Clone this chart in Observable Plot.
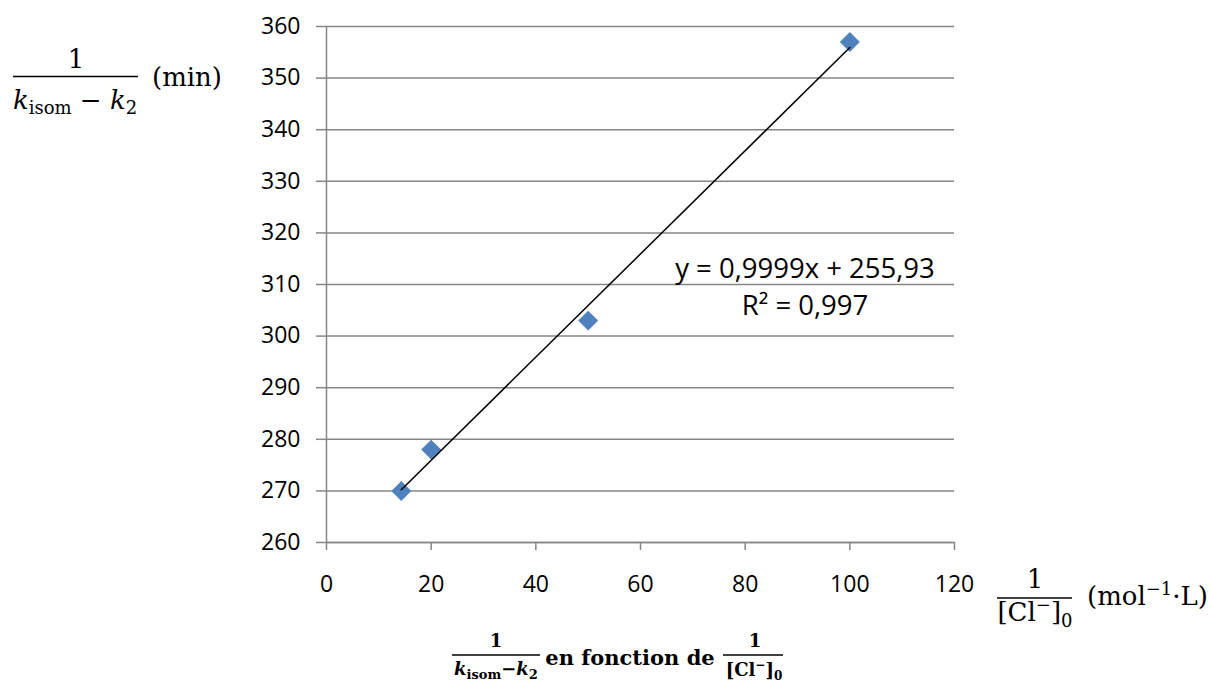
<!DOCTYPE html>
<html>
<head>
<meta charset="utf-8">
<script src="https://cdn.jsdelivr.net/npm/d3@7"></script>
<script src="https://cdn.jsdelivr.net/npm/@observablehq/plot@0.6"></script>
<style>
  html, body { margin: 0; padding: 0; background: #fff; }
  #wrap { position: relative; width: 1211px; height: 684px; overflow: hidden; }
  #overlay { position: absolute; left: 0; top: 0; pointer-events: none; }
  .m { font-family: "DejaVu Serif", "Liberation Serif", serif; fill: #000; }
  .eq { font-family: "Open Sans", sans-serif; fill: #000; }
</style>
</head>
<body>
<div id="wrap"></div>
<script>
// Data
const invConc = [14.29, 20, 50, 100];      // 1/[Cl-]0 (mol^-1·L)
const invK = [270, 278, 303, 357];          // 1/(k_isom - k2) (min)
const xTicks = [0, 20, 40, 60, 80, 100, 120];
const yTicks = [260, 270, 280, 290, 300, 310, 320, 330, 340, 350, 360];
const eqLine1 = "y = 0,9999x + 255,93";
const eqLine2 = "R² = 0,997";

const data = invConc.map((x, i) => ({x, y: invK[i]}));
const grey = "#868686";

const chart = Plot.plot({
  width: 1211,
  height: 684,
  marginLeft: 326,
  marginRight: 257,
  marginTop: 26,
  marginBottom: 142,
  style: {fontFamily: "'Open Sans', sans-serif", fontSize: "23px", color: "#000", background: "#fff"},
  x: {domain: [0, 120], label: null},
  y: {domain: [260, 360], label: null},
  marks: [
    Plot.gridY(yTicks, {stroke: grey, strokeOpacity: 1, strokeWidth: 1.5}),
    Plot.ruleX([0], {stroke: grey, strokeWidth: 1.5}),
    Plot.ruleY([260], {stroke: grey, strokeWidth: 1.5}),
    Plot.axisX(xTicks, {stroke: grey, strokeWidth: 1.5, fill: "#000", tickSize: 8, tickPadding: 25, label: null}),
    Plot.axisY(yTicks, {stroke: grey, strokeWidth: 1.5, fill: "#000", tickSize: 10, tickPadding: 16, label: null}),
    Plot.dot(data, {x: "x", y: "y", symbol: "diamond2", r: 9, fill: "#4F81BD", stroke: "none"}),
    Plot.linearRegressionY(data, {x: "x", y: "y", stroke: "#000", strokeWidth: 1.5, ci: 0})
  ]
});

const wrap = document.getElementById("wrap");
wrap.appendChild(chart);

// Math labels overlay
const ns = "http://www.w3.org/2000/svg";
const ov = document.createElementNS(ns, "svg");
ov.setAttribute("id", "overlay");
ov.setAttribute("width", 1211);
ov.setAttribute("height", 684);
ov.innerHTML = `
  <!-- y-axis label -->
  <text class="m" x="76" y="68" text-anchor="middle" font-size="26">1</text>
  <line x1="13" x2="138" y1="76.5" y2="76.5" stroke="#000" stroke-width="1.6"/>
  <text class="m" x="75" y="109" text-anchor="middle" font-size="26"><tspan font-style="italic">k</tspan><tspan font-size="18" dy="5">isom</tspan><tspan dy="-5"> − </tspan><tspan font-style="italic">k</tspan><tspan font-size="18" dy="5">2</tspan></text>
  <text class="m" x="152" y="86" font-size="26">(min)</text>

  <!-- x-axis label -->
  <text class="m" x="1035" y="588" text-anchor="middle" font-size="26">1</text>
  <line x1="997" x2="1072" y1="598" y2="598" stroke="#000" stroke-width="1.6"/>
  <text class="m" x="1035" y="621" text-anchor="middle" font-size="26">[Cl<tspan font-size="18" dy="-10">−</tspan><tspan dy="10">]</tspan><tspan font-size="18" dy="6">0</tspan></text>
  <text class="m" x="1087" y="605" font-size="26">(mol<tspan font-size="18" dy="-10">−1</tspan><tspan dy="10">·L)</tspan></text>

  <!-- trendline equation -->
  <text class="eq" x="805" y="278" text-anchor="middle" font-size="27.5">${eqLine1}</text>
  <text class="eq" x="805" y="315" text-anchor="middle" font-size="27.5">${eqLine2}</text>

  <!-- title -->
  <text class="m" x="496" y="647" text-anchor="middle" font-size="18" font-weight="bold">1</text>
  <line x1="452" x2="540" y1="655" y2="655" stroke="#000" stroke-width="1.6"/>
  <text class="m" x="496" y="675" text-anchor="middle" font-size="18" font-weight="bold"><tspan font-style="italic">k</tspan><tspan font-size="13" dy="4">isom</tspan><tspan dy="-4">−</tspan><tspan font-style="italic">k</tspan><tspan font-size="13" dy="4">2</tspan></text>
  <text class="m" x="630" y="665" text-anchor="middle" font-size="21" font-weight="bold">en fonction de</text>
  <text class="m" x="755" y="647" text-anchor="middle" font-size="18" font-weight="bold">1</text>
  <line x1="723" x2="783" y1="655" y2="655" stroke="#000" stroke-width="1.6"/>
  <text class="m" x="754" y="676" text-anchor="middle" font-size="18" font-weight="bold">[Cl<tspan font-size="12" dy="-7">−</tspan><tspan dy="7">]</tspan><tspan font-size="12" dy="4">0</tspan></text>
`;
wrap.appendChild(ov);
</script>
</body>
</html>
